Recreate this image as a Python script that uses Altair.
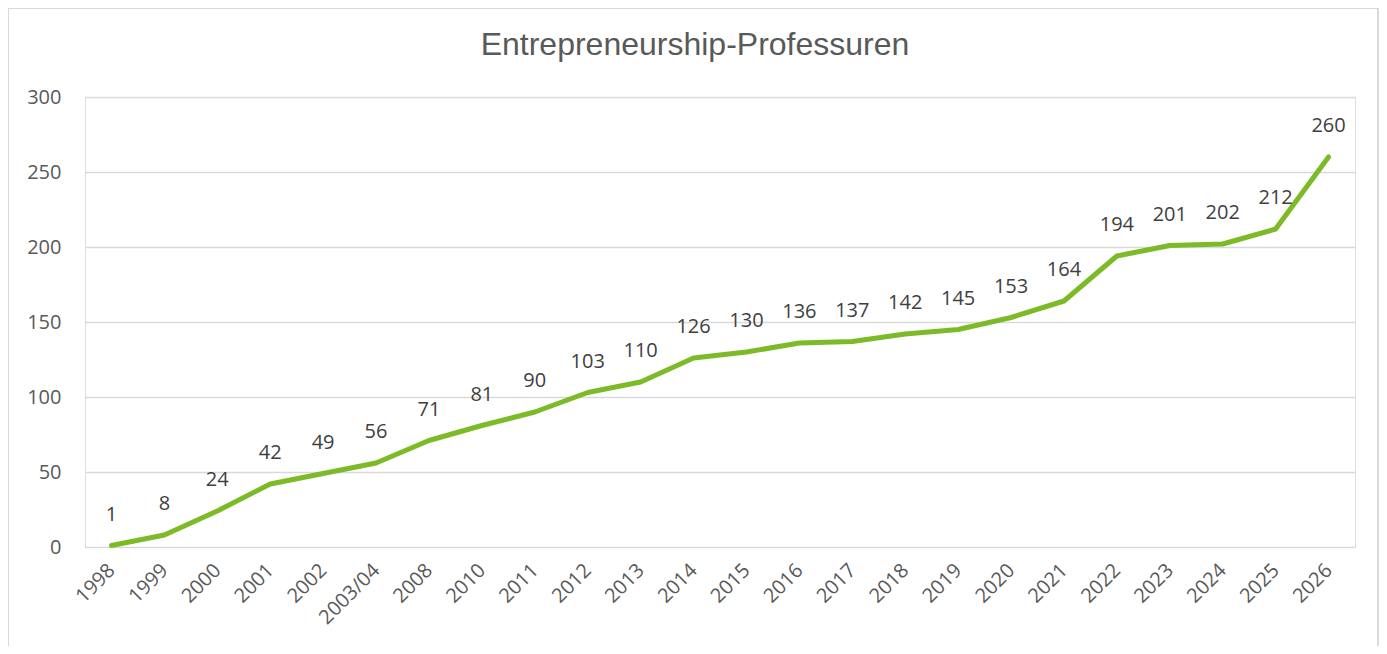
import altair as alt
import pandas as pd

years = ["1998", "1999", "2000", "2001", "2002", "2003/04", "2008", "2010", "2011",
         "2012", "2013", "2014", "2015", "2016", "2017", "2018", "2019", "2020",
         "2021", "2022", "2023", "2024", "2025", "2026"]
values = [1, 8, 24, 42, 49, 56, 71, 81, 90, 103, 110, 126, 130, 136, 137, 142,
          145, 153, 164, 194, 201, 202, 212, 260]

df = pd.DataFrame({"Jahr": years, "Anzahl": values})

GREEN = "#7DBA28"
W, H = 1270, 450

x = alt.X("Jahr:N", sort=years, title=None,
          scale=alt.Scale(type="point", padding=0.5),
          axis=alt.Axis(labelAngle=-45, labelAlign="right", labelBaseline="middle",
                        labelPadding=20, ticks=False, domain=True, domainColor="#d9d9d9",
                        labelFont="Open Sans", labelFontSize=20, labelColor="#595959",
                        grid=False))
y = alt.Y("Anzahl:Q", title=None,
          scale=alt.Scale(domain=[0, 300], nice=False),
          axis=alt.Axis(values=[0, 50, 100, 150, 200, 250, 300], ticks=False, domain=False,
                        labelPadding=24, labelFont="Open Sans", labelFontSize=20,
                        labelColor="#595959", gridColor="#d9d9d9", gridWidth=1.3))

border = alt.Chart(df).mark_rect(fill=None, stroke="#d9d9d9", strokeWidth=1.5, clip=False).encode(
    x=alt.value(-77), x2=alt.value(W + 23), y=alt.value(-89), y2=alt.value(H + 120)
)

line = alt.Chart(df).mark_line(color=GREEN, strokeWidth=5, strokeCap="round",
                               strokeJoin="round").encode(x=x, y=y)

labels = alt.Chart(df).mark_text(dy=-31, font="Open Sans", fontSize=20,
                                 color="#404040", baseline="middle").encode(
    x=x, y=y, text="Anzahl:Q")

chart = alt.layer(border, line, labels).properties(
    width=W, height=H,
    autosize=alt.AutoSizeParams(type="none"),
    padding={"left": 77, "top": 89, "right": 24, "bottom": 99},
    title=alt.TitleParams("Entrepreneurship-Professuren", font="Liberation Sans",
                          fontSize=32, fontWeight="normal", color="#595959",
                          anchor="middle", frame="group", baseline="alphabetic",
                          offset=-80, dx=-25),
).configure_view(stroke=None).configure(background="white")

chart.save("out.html", embed_options={"renderer": "svg", "actions": False})
